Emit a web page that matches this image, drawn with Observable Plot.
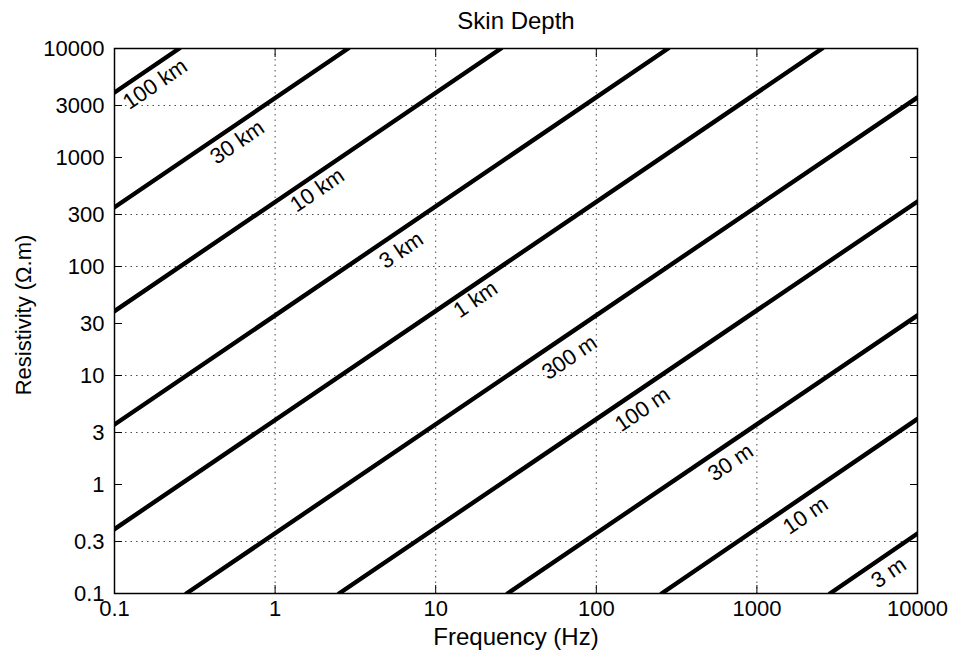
<!DOCTYPE html>
<html><head><meta charset="utf-8">
<script src="https://cdn.jsdelivr.net/npm/d3@7"></script>
<script src="https://cdn.jsdelivr.net/npm/@observablehq/plot@0.6"></script>
<style>html,body{margin:0;padding:0;background:#fff;}</style>
</head><body><div id="chart"></div>
<script>
const depthLabels = ["100 km", "30 km", "10 km", "3 km", "1 km", "300 m", "100 m", "30 m", "10 m", "3 m"];
const startFreq = [0.1, 0.1, 0.1, 0.1, 0.1, 0.28, 2.5, 28, 255, 2850];
const startRho  = [3950, 350, 39, 3.55, 0.39, 0.1, 0.1, 0.1, 0.1, 0.1];
const endFreq   = [0.253, 2.85, 25.5, 280, 2550, 10000, 10000, 10000, 10000, 10000];
const endRho    = [10000, 10000, 10000, 10000, 10000, 3560, 395, 35.6, 4.0, 0.355];
// label centres
const labelFreq = [0.179, 0.581, 1.83, 6.11, 17.7, 68.1, 194, 686, 2010, 6620];
const labelRho  = [4700, 1380, 500, 141, 49.9, 14.6, 4.87, 1.59, 0.518, 0.155];
// ticks and grid
const xTicks = [0.1, 1, 10, 100, 1000, 10000];
const yTicks = [0.1, 0.3, 1, 3, 10, 30, 100, 300, 1000, 3000, 10000];
const xGrid = [1, 10, 100, 1000];
const yGrid = [0.3, 3, 10, 100, 300, 3000];

const lines = depthLabels.flatMap((name, i) => [
  {name, f: startFreq[i], rho: startRho[i]},
  {name, f: endFreq[i], rho: endRho[i]}
]);
const labels = depthLabels.map((name, i) => ({name, f: labelFreq[i], rho: labelRho[i]}));

const font = "'Liberation Sans', Arial, Helvetica, sans-serif";
const chart = Plot.plot({
  width: 954, height: 651,
  marginLeft: 114, marginRight: 37, marginTop: 48, marginBottom: 58,
  style: {fontFamily: font, fontSize: "22px", background: "#fff", color: "#000"},
  x: {type: "log", domain: [0.1, 10000]},
  y: {type: "log", domain: [0.1, 10000]},
  marks: [
    Plot.gridX(xGrid, {stroke: "#000", strokeOpacity: 0.7, strokeDasharray: "1.5,4"}),
    Plot.gridY(yGrid, {stroke: "#000", strokeOpacity: 0.7, strokeDasharray: "1.5,4"}),
    Plot.axisX(xTicks, {anchor: "bottom", tickSize: -8, fill: "none", label: null}),
    Plot.axisX(xTicks, {anchor: "top", tickSize: -8, fill: "none", label: null}),
    Plot.axisX(xTicks, {anchor: "bottom", tickSize: 0, tickPadding: 7, fontSize: 22, tickFormat: d => String(d), label: null}),
    Plot.axisY(yTicks, {anchor: "left", tickSize: -8, fill: "none", label: null}),
    Plot.axisY(yTicks, {anchor: "right", tickSize: -8, fill: "none", label: null}),
    Plot.axisY(yTicks, {anchor: "left", tickSize: 0, tickPadding: 10, fontSize: 22, tickFormat: d => String(d), label: null}),
    Plot.frame({stroke: "#000", strokeWidth: 1.5}),
    Plot.text(labels, {x: "f", y: "rho", text: "name", rotate: -34.2, fontSize: 22, fill: "#000", stroke: "#fff", strokeWidth: 3}),
    Plot.line(lines, {x: "f", y: "rho", z: "name", stroke: "#000", strokeWidth: 4.4, clip: true}),
    Plot.text(["Skin Depth"], {text: d => d, frameAnchor: "top", lineAnchor: "middle", dy: -27, fontSize: 24}),
    Plot.text(["Frequency (Hz)"], {text: d => d, frameAnchor: "bottom", lineAnchor: "middle", dy: 44, fontSize: 24}),
    Plot.text(["Resistivity (Ω.m)"], {text: d => d, frameAnchor: "left", textAnchor: "middle", lineAnchor: "middle", dx: -91, dy: -6, rotate: -90, fontSize: 22})
  ]
});
document.getElementById("chart").appendChild(chart);
</script>
</body></html>
